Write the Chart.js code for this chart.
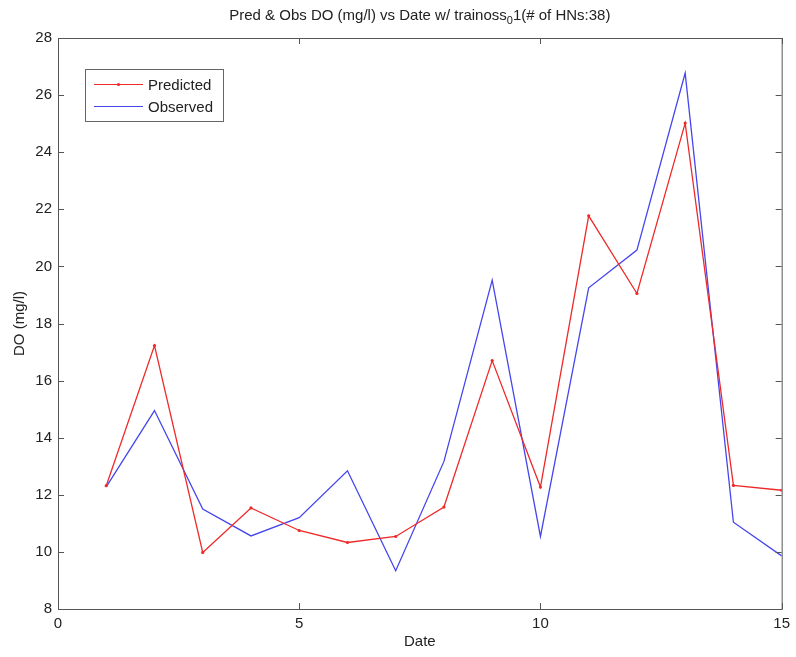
<!DOCTYPE html>
<html>
<head>
<meta charset="utf-8">
<script src="https://cdn.jsdelivr.net/npm/chart.js@4.4.1/dist/chart.umd.min.js"></script>
<style>
  html, body { margin:0; padding:0; background:#fff; }
  #wrap { width:796px; height:657px; }
</style>
</head>
<body>
<div id="wrap"><canvas id="doChart" width="796" height="657"></canvas></div>
<script>
// values
const dates = [1, 2, 3, 4, 5, 6, 7, 8, 9, 10, 11, 12, 13, 14, 15];
const predicted = [12.32, 17.23, 9.98, 11.54, 10.75, 10.33, 10.54, 11.57, 16.70, 12.27, 21.77, 19.05, 25.02, 12.33, 12.16];
const observed  = [12.28, 14.95, 11.50, 10.56, 11.20, 12.84, 9.34, 13.17, 19.52, 10.54, 19.25, 20.57, 26.77, 11.04, 9.86];
const xTicks = [0, 5, 10, 15];
const yTicks = [8, 10, 12, 14, 16, 18, 20, 22, 24, 26, 28];

const FONT = 'Liberation Sans, Arial, sans-serif';
const AXIS = '#555';

const toPoints = vals => vals.map((v, i) => ({ x: dates[i], y: v }));

// matlab-ish box, inward ticks, title with subscript, legend box
const matlabFrame = {
  id: 'matlabFrame',
  afterDraw(chart) {
    const { ctx, chartArea: a, scales: { x, y } } = chart;
    ctx.save();
    ctx.strokeStyle = AXIS;
    ctx.lineWidth = 1;
    ctx.strokeRect(a.left + 0.5, a.top + 0.5, a.right - a.left, a.bottom - a.top);
    const tl = 6;
    ctx.beginPath();
    xTicks.forEach(v => {
      const px = Math.round(x.getPixelForValue(v)) + 0.5;
      ctx.moveTo(px, a.bottom); ctx.lineTo(px, a.bottom - tl);
      ctx.moveTo(px, a.top); ctx.lineTo(px, a.top + tl);
    });
    yTicks.forEach(v => {
      const py = Math.round(y.getPixelForValue(v)) + 0.5;
      ctx.moveTo(a.left, py); ctx.lineTo(a.left + tl, py);
      ctx.moveTo(a.right, py); ctx.lineTo(a.right - tl, py);
    });
    ctx.stroke();

    // title
    ctx.fillStyle = '#222';
    ctx.textBaseline = 'alphabetic';
    const big = '15px ' + FONT, small = '11px ' + FONT;
    const p1 = 'Pred & Obs DO (mg/l) vs Date w/ trainoss', sub = '0', p2 = '1(# of HNs:38)';
    ctx.font = big; const w1 = ctx.measureText(p1).width, w3 = ctx.measureText(p2).width;
    ctx.font = small; const w2 = ctx.measureText(sub).width;
    let tx = (a.left + a.right) / 2 - (w1 + w2 + w3) / 2;
    const ty = 20;
    ctx.font = big; ctx.fillText(p1, tx, ty); tx += w1;
    ctx.font = small; ctx.fillText(sub, tx, ty + 4); tx += w2;
    ctx.font = big; ctx.fillText(p2, tx, ty);

    // legend
    const lx = 85, ly = 69, lw = 138, lh = 52;
    ctx.fillStyle = '#fff';
    ctx.fillRect(lx, ly, lw, lh);
    ctx.strokeStyle = '#666';
    ctx.strokeRect(lx + 0.5, ly + 0.5, lw, lh);
    chart.data.datasets.forEach((ds, i) => {
      const yy = ly + 15.5 + i * 22;
      ctx.strokeStyle = ds.borderColor;
      ctx.lineWidth = 1.2;
      ctx.beginPath(); ctx.moveTo(lx + 9, yy); ctx.lineTo(lx + 58, yy); ctx.stroke();
      if (ds.pointRadius > 0) {
        ctx.fillStyle = ds.borderColor;
        ctx.beginPath(); ctx.arc(lx + 33.5, yy, 1.6, 0, Math.PI * 2); ctx.fill();
      }
      ctx.fillStyle = '#222';
      ctx.font = big;
      ctx.textBaseline = 'middle';
      ctx.fillText(ds.label, lx + 63, yy + 1);
    });
    ctx.restore();
  }
};

new Chart(document.getElementById('doChart'), {
  type: 'line',
  data: {
    datasets: [
      {
        label: 'Predicted',
        data: toPoints(predicted),
        borderColor: '#ee2a2a',
        backgroundColor: '#ee2a2a',
        borderWidth: 1.3,
        pointRadius: 1.6,
        pointBorderWidth: 0,
        tension: 0
      },
      {
        label: 'Observed',
        data: toPoints(observed),
        borderColor: '#4646ee',
        backgroundColor: '#4646ee',
        borderWidth: 1.3,
        pointRadius: 0,
        tension: 0
      }
    ]
  },
  options: {
    responsive: false,
    animation: false,
    layout: { padding: { top: 38, right: 10, left: 0, bottom: 0 } },
    plugins: { legend: { display: false }, tooltip: { enabled: false }, title: { display: false } },
    scales: {
      x: {
        type: 'linear', min: 0, max: 15,
        afterBuildTicks: s => { s.ticks = xTicks.map(v => ({ value: v })); },
        afterFit: s => { s.height = 48; },
        grid: { display: false, drawTicks: false },
        border: { display: false },
        ticks: { color: '#222', font: { family: FONT, size: 15 }, padding: 6, maxRotation: 0 },
        title: { display: true, text: 'Date', color: '#222', font: { family: FONT, size: 15 }, padding: { top: 0, bottom: 6 } }
      },
      y: {
        min: 8, max: 28,
        afterBuildTicks: s => { s.ticks = yTicks.map(v => ({ value: v })); },
        afterFit: s => { s.width = 58; },
        grid: { display: false, drawTicks: false },
        border: { display: false },
        ticks: { color: '#222', font: { family: FONT, size: 15 }, padding: 6 },
        title: { display: true, text: 'DO (mg/l)', color: '#222', font: { family: FONT, size: 15 }, padding: { top: 11, bottom: 0 } }
      }
    }
  },
  plugins: [matlabFrame]
});
</script>
</body>
</html>
